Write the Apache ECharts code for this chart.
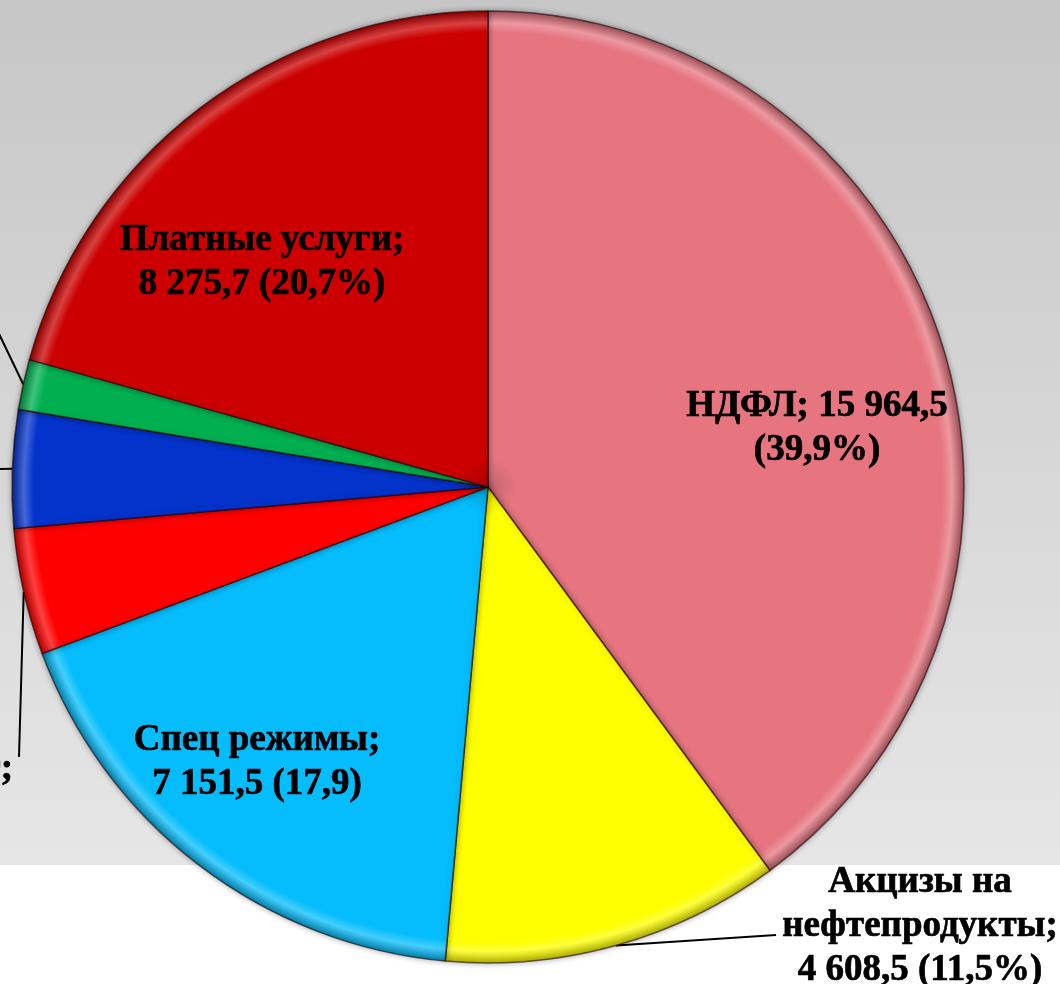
<!DOCTYPE html>
<html>
<head>
<meta charset="utf-8">
<script src="https://cdn.jsdelivr.net/npm/echarts@6/dist/echarts.min.js"></script>
<style>
  html, body { margin: 0; padding: 0; background: #fff; }
  #main {
    width: 1060px; height: 984px;
    background: linear-gradient(to bottom, #c6c6c6 0px, #e6e6e6 865px, #ffffff 865px, #ffffff 984px);
  }
</style>
</head>
<body>
<div id="main"></div>
<script>
// доходы бюджета, тыс. руб.
var names = ['НДФЛ', 'Акцизы на нефтепродукты', 'Спец режимы', 'Земельный налог', 'Доходы от имущества', 'Госпошлина', 'Платные услуги'];
var values = [15964.5, 4608.5, 7151.5, 1720.0, 1600.0, 680.0, 8275.7];
var colors = ['#e67580', '#ffff00', '#05bdfc', '#ff0000', '#0433cc', '#00b050', '#cc0000'];
// шаблоны подписей
var templates = ['{n}; {v}\n({p}%)', '{n};\n{v} ({p}%)', '{n};\n{v} ({p})', '{n};\n{v} ({p}%)', '{n};\n{v} ({p}%)', '{n};\n{v} ({p}%)', '{n};\n{v} ({p}%)'];

var CX = 488, CY = 487, R = 476;
var FONT = 'bold 37px "Liberation Serif"';

function fmt(v) {
    var s = v.toFixed(1).split('.');
    return s[0].replace(/\B(?=(\d{3})+(?!\d))/g, ' ') + ',' + s[1];
}

function mix(hex, to, t) {
    var a = parseInt(hex.slice(1), 16), b = parseInt(to.slice(1), 16);
    var r = Math.round(((a >> 16) & 255) * (1 - t) + ((b >> 16) & 255) * t);
    var g = Math.round(((a >> 8) & 255) * (1 - t) + ((b >> 8) & 255) * t);
    var bl = Math.round((a & 255) * (1 - t) + (b & 255) * t);
    return 'rgb(' + r + ',' + g + ',' + bl + ')';
}

// объёмный ободок у края
function rim(c) {
    return {
        type: 'radial', x: CX, y: CY, r: R, global: true,
        colorStops: [
            { offset: 0, color: mix(c, '#000000', 0.15) },
            { offset: 0.06, color: c },
            { offset: 0.955, color: c },
            { offset: 0.975, color: mix(c, '#ffffff', 0.25) },
            { offset: 1, color: mix(c, '#000000', 0.3) }
        ]
    };
}

var measure = document.createElement('canvas').getContext('2d');
measure.font = FONT;

// где стоят подписи
var spots = [
    { x: 817, y: 428 },
    { x: 920, y: 926, end: [776, 935] },
    { x: 257, y: 762 },
    { right: 13, y: 791, end: [19, 757] },
    { right: -34, y: 470, end: [-30, 470] },
    { right: -30, y: 250, end: [-22, 290] },
    { x: 262, y: 262 }
];
var inside = [true, false, true, false, false, false, true];

var data = names.map(function (n, i) {
    return {
        name: n,
        value: values[i],
        itemStyle: { color: rim(colors[i]) },
        label: { position: inside[i] ? 'inside' : 'outside' },
        labelLine: { show: !inside[i] }
    };
});

var chart = echarts.init(document.getElementById('main'), null, { renderer: 'canvas' });

chart.setOption({
    animation: false,
    series: [{
        type: 'pie',
        center: [CX, CY],
        radius: R,
        startAngle: 90,
        clockwise: true,
        avoidLabelOverlap: false,
        itemStyle: {
            borderColor: 'rgba(30,0,0,0.6)',
            borderWidth: 1.5,
            shadowBlur: 6,
            shadowColor: 'rgba(0,0,0,0.35)'
        },
        emphasis: { disabled: true },
        label: {
            show: true,
            color: '#000',
            fontFamily: 'Liberation Serif',
            fontWeight: 'bold',
            fontSize: 37,
            lineHeight: 44,
            textBorderColor: '#000',
            textBorderWidth: 0.7,
            align: 'center',
            width: 340,
            overflow: 'none',
            formatter: function (p) {
                return templates[p.dataIndex]
                    .replace('{n}', p.name.replace(' на ', ' на\n'))
                    .replace('{v}', fmt(p.value))
                    .replace('{p}', p.percent.toFixed(1).replace('.', ','));
            }
        },
        labelLine: {
            lineStyle: { color: '#000', width: 2 },
            length: 10,
            length2: 10
        },
        labelLayout: function (p) {
            var s = spots[p.dataIndex];
            var x = s.x;
            if (s.right != null) {
                var first = p.text.split('\n')[0];
                x = s.right - measure.measureText(first).width / 2;
            }
            var res = { x: x, y: s.y, align: 'center', verticalAlign: 'middle' };
            if (s.end && p.labelLinePoints) {
                res.labelLinePoints = [p.labelLinePoints[0], s.end];
            }
            return res;
        },
        data: data
    }]
});
</script>
</body>
</html>
